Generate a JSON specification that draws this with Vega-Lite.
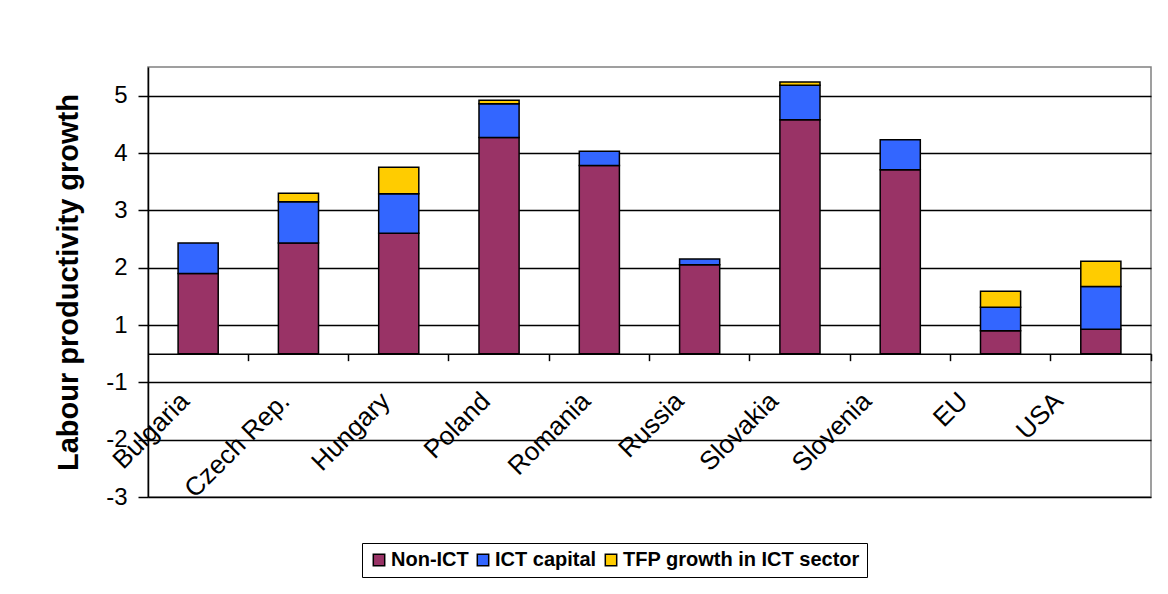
{
  "$schema": "https://vega.github.io/schema/vega-lite/v6.json",
  "width": 1003,
  "height": 430,
  "autosize": {"type": "none"},
  "padding": {"left": 148, "top": 67, "right": 17, "bottom": 97},
  "background": "white",
  "data": {
    "values": [
      {"country": "Bulgaria", "component": "Non-ICT", "i": 1, "value": 1.90},
      {"country": "Bulgaria", "component": "ICT capital", "i": 2, "value": 0.53},
      {"country": "Czech Rep.", "component": "Non-ICT", "i": 1, "value": 2.43},
      {"country": "Czech Rep.", "component": "ICT capital", "i": 2, "value": 0.72},
      {"country": "Czech Rep.", "component": "TFP growth in ICT sector", "i": 3, "value": 0.15},
      {"country": "Hungary", "component": "Non-ICT", "i": 1, "value": 2.60},
      {"country": "Hungary", "component": "ICT capital", "i": 2, "value": 0.69},
      {"country": "Hungary", "component": "TFP growth in ICT sector", "i": 3, "value": 0.46},
      {"country": "Poland", "component": "Non-ICT", "i": 1, "value": 4.27},
      {"country": "Poland", "component": "ICT capital", "i": 2, "value": 0.59},
      {"country": "Poland", "component": "TFP growth in ICT sector", "i": 3, "value": 0.06},
      {"country": "Romania", "component": "Non-ICT", "i": 1, "value": 3.78},
      {"country": "Romania", "component": "ICT capital", "i": 2, "value": 0.25},
      {"country": "Russia", "component": "Non-ICT", "i": 1, "value": 2.05},
      {"country": "Russia", "component": "ICT capital", "i": 2, "value": 0.10},
      {"country": "Slovakia", "component": "Non-ICT", "i": 1, "value": 4.58},
      {"country": "Slovakia", "component": "ICT capital", "i": 2, "value": 0.60},
      {"country": "Slovakia", "component": "TFP growth in ICT sector", "i": 3, "value": 0.06},
      {"country": "Slovenia", "component": "Non-ICT", "i": 1, "value": 3.71},
      {"country": "Slovenia", "component": "ICT capital", "i": 2, "value": 0.52},
      {"country": "EU", "component": "Non-ICT", "i": 1, "value": 0.80},
      {"country": "EU", "component": "ICT capital", "i": 2, "value": 0.51},
      {"country": "EU", "component": "TFP growth in ICT sector", "i": 3, "value": 0.28},
      {"country": "USA", "component": "Non-ICT", "i": 1, "value": 0.85},
      {"country": "USA", "component": "ICT capital", "i": 2, "value": 0.82},
      {"country": "USA", "component": "TFP growth in ICT sector", "i": 3, "value": 0.44}
    ]
  },
  "mark": {"type": "bar", "stroke": "black", "strokeWidth": 1.5},
  "encoding": {
    "x": {
      "field": "country",
      "type": "nominal",
      "sort": null,
      "scale": {"paddingInner": 0.6, "paddingOuter": 0.3},
      "axis": {
        "title": null,
        "offset": -143.33,
        "domainColor": "black",
        "domainWidth": 1.5,
        "tickColor": "black",
        "tickWidth": 1.5,
        "tickSize": 7,
        "bandPosition": 1.75,
        "labelAngle": -45,
        "labelAlign": "right",
        "labelBaseline": "middle",
        "labelPadding": 36,
        "labelOffset": {
          "condition": [
            {"test": "datum.value === 'Russia'", "value": -20},
            {"test": "datum.value === 'Slovakia'", "value": -26},
            {"test": "datum.value === 'Slovenia'", "value": -33},
            {"test": "datum.value === 'EU'", "value": -37},
            {"test": "datum.value === 'USA'", "value": -42}
          ],
          "value": -13
        },
        "labelFont": "Liberation Sans",
        "labelFontSize": 26,
        "labelColor": "black",
        "labelLimit": 400,
        "grid": false
      }
    },
    "y": {
      "field": "value",
      "type": "quantitative",
      "stack": "zero",
      "scale": {"domain": [-3, -1, 0, 1, 5.5], "range": [430, 315.33, 286.67, 258, 0], "nice": false, "zero": false},
      "axis": {
        "title": "Labour productivity growth",
        "titleFont": "Liberation Sans",
        "titleFontSize": 29,
        "titleFontWeight": "bold",
        "titleColor": "black",
        "titlePadding": 22,
        "values": [5, 4, 3, 2, 1, -1, -2, -3],
        "labelExpr": "'' + datum.value",
        "grid": true,
        "gridColor": "black",
        "gridWidth": 1.3,
        "domainColor": "black",
        "domainWidth": 1.5,
        "tickColor": "black",
        "tickWidth": 1.5,
        "tickSize": 10,
        "labelPadding": 11,
        "labelFont": "Liberation Sans",
        "labelFontSize": 24,
        "labelColor": "black"
      }
    },
    "color": {
      "field": "component",
      "type": "nominal",
      "scale": {
        "domain": ["Non-ICT", "ICT capital", "TFP growth in ICT sector"],
        "range": ["#993366", "#3366FF", "#FFCC00"]
      },
      "legend": {
        "title": null,
        "orient": "none",
        "legendX": 214,
        "legendY": 476,
        "direction": "horizontal",
        "strokeColor": "black",
        "padding": 7,
        "symbolType": "square",
        "symbolSize": 130,
        "symbolStrokeColor": "black",
        "symbolStrokeWidth": 1.5,
        "labelFont": "Liberation Sans",
        "labelFontSize": 20,
        "labelFontWeight": "bold",
        "labelColor": "black",
        "labelLimit": 400,
        "labelOffset": 2,
        "columnPadding": 4
      }
    },
    "order": {"field": "i", "type": "quantitative"}
  },
  "config": {
    "view": {"stroke": "#808080", "strokeWidth": 1.5}
  }
}
